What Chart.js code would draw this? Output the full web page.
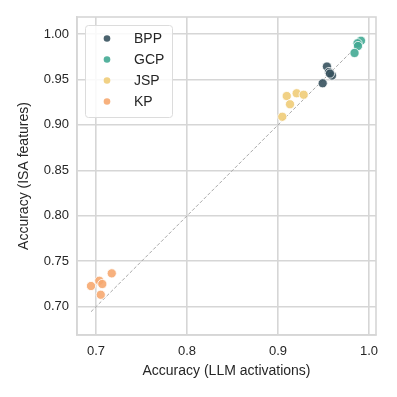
<!DOCTYPE html>
<html>
<head>
<meta charset="utf-8">
<script src="https://cdn.jsdelivr.net/npm/chart.js@4.4.0/dist/chart.umd.min.js"></script>
<style>
  html, body { margin: 0; padding: 0; background: #fff; }
  #wrap { width: 397px; height: 397px; }
</style>
</head>
<body>
<div id="wrap"><canvas id="grafico" width="397" height="397"></canvas></div>
<script>
// datos
const bppX = [0.9538, 0.9560, 0.9593, 0.9491, 0.9571];
const bppY = [0.9642, 0.9582, 0.9543, 0.9458, 0.9565];
const gcpX = [0.9912, 0.9874, 0.9879, 0.9841];
const gcpY = [0.9926, 0.9898, 0.9868, 0.9791];
const jspX = [0.9096, 0.9205, 0.9282, 0.9132, 0.9047];
const jspY = [0.9318, 0.9348, 0.9332, 0.9227, 0.9090];
const kpX = [0.6945, 0.7036, 0.7069, 0.7173, 0.7052];
const kpY = [0.7228, 0.7286, 0.7250, 0.7367, 0.7132];

const etiquetas = ['BPP', 'GCP', 'JSP', 'KP'];
const colores = ['rgba(55,82,94,0.9)', 'rgba(66,170,148,0.9)', 'rgba(240,204,120,0.9)', 'rgba(246,168,112,0.9)'];
const xTicks = [0.7, 0.8, 0.9, 1.0];
const yTicks = [0.70, 0.75, 0.80, 0.85, 0.90, 0.95, 1.00];

const series = [[bppX, bppY], [gcpX, gcpY], [jspX, jspY], [kpX, kpY]];
const todos = series.flatMap(s => s[0].concat(s[1]));
const lo = Math.min(...todos);
const hi = Math.max(...todos);

const gris = '#d6d6d6';
const fuente = "'Liberation Sans', Arial, sans-serif";

const datasets = series.map((s, i) => ({
  type: 'scatter',
  label: etiquetas[i],
  data: s[0].map((x, j) => ({ x, y: s[1][j] })),
  backgroundColor: colores[i],
  borderColor: '#ffffff',
  borderWidth: 0.8,
  pointRadius: 4.6,
  order: 1
}));
datasets.push({
  type: 'line',
  label: 'diag',
  data: [{ x: lo, y: lo }, { x: hi, y: hi }],
  borderColor: '#a8a8a8',
  borderWidth: 1,
  borderDash: [3.5, 2],
  pointRadius: 0,
  fill: false,
  order: 2
});

// marco completo + leyenda dentro del area
const leyenda = {
  id: 'leyenda',
  beforeDatasetsDraw(chart) {
    const a = chart.chartArea;
    const c = chart.ctx;
    c.save();
    c.strokeStyle = gris;
    c.lineWidth = 1.6;
    c.strokeRect(a.left, a.top, a.right - a.left, a.bottom - a.top);
    c.restore();
  },
  afterDraw(chart) {
    const c = chart.ctx;
    c.save();
    const x0 = 85.5, y0 = 25.5, w = 87, h = 92;
    c.fillStyle = 'rgba(255,255,255,0.85)';
    c.strokeStyle = '#dcdcdc';
    c.lineWidth = 1;
    c.beginPath();
    c.roundRect(x0, y0, w, h, 3);
    c.fill();
    c.stroke();
    c.font = '14px ' + fuente;
    c.textBaseline = 'middle';
    etiquetas.forEach((t, i) => {
      const y = 38 + i * 21;
      c.fillStyle = colores[i];
      c.beginPath();
      c.arc(107, y + 0.5, 3.3, 0, Math.PI * 2);
      c.fill();
      c.fillStyle = '#262626';
      c.fillText(t, 134, y + 1);
    });
    c.restore();
  }
};

new Chart(document.getElementById('grafico').getContext('2d'), {
  data: { datasets },
  options: {
    responsive: false,
    animation: false,
    layout: { padding: { left: 16, right: 21, top: 17, bottom: 17 } },
    plugins: { legend: { display: false }, tooltip: { enabled: false } },
    scales: {
      x: {
        type: 'linear',
        min: 0.6791,
        max: 1.0077,
        afterBuildTicks: s => { s.ticks = xTicks.map(v => ({ value: v })); },
        afterFit: s => { s.height = 45; },
        grid: { color: gris, lineWidth: 1.6, drawTicks: false },
        border: { color: gris, width: 1.6 },
        ticks: {
          padding: 9,
          color: '#262626',
          font: { family: fuente, size: 13 },
          callback: v => v.toFixed(1)
        },
        title: {
          display: true,
          text: 'Accuracy (LLM activations)',
          color: '#262626',
          font: { family: fuente, size: 14 },
          padding: { top: 1, bottom: 0 }
        }
      },
      y: {
        type: 'linear',
        min: 0.6689,
        max: 1.0187,
        afterBuildTicks: s => { s.ticks = yTicks.map(v => ({ value: v })); },
        afterFit: s => { s.width = 61; },
        grid: { color: gris, lineWidth: 1.6, drawTicks: false },
        border: { color: gris, width: 1.6 },
        ticks: {
          padding: 8,
          color: '#262626',
          font: { family: fuente, size: 13 },
          callback: v => v.toFixed(2)
        },
        title: {
          display: true,
          text: 'Accuracy (ISA features)',
          color: '#262626',
          font: { family: fuente, size: 14 },
          padding: { top: 0, bottom: 2 }
        }
      }
    }
  },
  plugins: [leyenda]
});
</script>
</body>
</html>
